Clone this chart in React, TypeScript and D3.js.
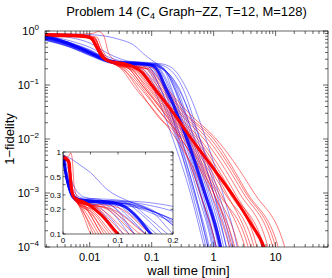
import React from 'react';
import * as d3 from 'd3';

type Pt = [number, number];

// wall time [min], 1 - fidelity
const blueThin: Pt[][] = [
  [[0.001,0.86],[0.002,0.78],[0.005,0.58],[0.01,0.42],[0.02,0.29],[0.035,0.26],[0.06,0.245],[0.09,0.18],[0.12,0.1],[0.26,0.01],[0.45,0.001],[0.75,0.0001],[0.9,0.00004]],
  [[0.001,0.84],[0.002,0.74],[0.005,0.55],[0.01,0.4],[0.02,0.28],[0.035,0.255],[0.07,0.24],[0.1,0.17],[0.13,0.1],[0.28,0.01],[0.5,0.001],[0.85,0.0001],[1,0.00004]],
  [[0.001,0.82],[0.002,0.72],[0.005,0.53],[0.01,0.38],[0.02,0.28],[0.035,0.25],[0.08,0.235],[0.11,0.17],[0.15,0.1],[0.3,0.01],[0.55,0.001],[0.95,0.0001],[1.1,0.00004]],
  [[0.001,0.88],[0.002,0.8],[0.005,0.6],[0.01,0.45],[0.02,0.3],[0.035,0.265],[0.09,0.25],[0.12,0.18],[0.16,0.1],[0.33,0.01],[0.6,0.001],[1,0.0001],[1.2,0.00004]],
  [[0.001,0.8],[0.002,0.7],[0.005,0.52],[0.01,0.37],[0.02,0.27],[0.035,0.245],[0.1,0.235],[0.13,0.17],[0.17,0.1],[0.35,0.01],[0.62,0.001],[1.05,0.0001],[1.25,0.00004]],
  [[0.001,0.85],[0.002,0.76],[0.005,0.56],[0.01,0.41],[0.02,0.29],[0.035,0.26],[0.11,0.245],[0.14,0.18],[0.18,0.1],[0.36,0.01],[0.66,0.001],[1.1,0.0001],[1.3,0.00004]],
  [[0.001,0.78],[0.002,0.68],[0.005,0.5],[0.01,0.36],[0.02,0.27],[0.035,0.245],[0.12,0.235],[0.15,0.17],[0.19,0.1],[0.38,0.01],[0.7,0.001],[1.2,0.0001],[1.4,0.00004]],
  [[0.001,0.9],[0.002,0.82],[0.005,0.65],[0.01,0.5],[0.02,0.33],[0.035,0.275],[0.1,0.26],[0.16,0.19],[0.2,0.1],[0.4,0.01],[0.75,0.001],[1.25,0.0001],[1.5,0.00004]],
  [[0.001,0.83],[0.002,0.73],[0.005,0.54],[0.01,0.39],[0.02,0.28],[0.035,0.25],[0.11,0.24],[0.17,0.18],[0.22,0.1],[0.42,0.01],[0.8,0.001],[1.35,0.0001],[1.6,0.00004]],
  [[0.001,0.76],[0.002,0.66],[0.005,0.49],[0.01,0.35],[0.02,0.26],[0.035,0.235],[0.1,0.225],[0.18,0.17],[0.23,0.1],[0.45,0.01],[0.85,0.001],[1.45,0.0001],[1.7,0.00004]],
  [[0.001,0.84],[0.002,0.75],[0.005,0.57],[0.01,0.42],[0.02,0.29],[0.035,0.26],[0.1,0.24],[0.17,0.17],[0.24,0.1],[0.48,0.01],[0.9,0.001],[1.6,0.0001],[1.9,0.00004]],
  [[0.001,0.81],[0.002,0.71],[0.005,0.53],[0.01,0.38],[0.02,0.27],[0.035,0.245],[0.11,0.235],[0.19,0.16],[0.26,0.1],[0.55,0.01],[1,0.001],[1.8,0.0001],[2.1,0.00004]],
  [[0.001,0.88],[0.002,0.79],[0.005,0.6],[0.01,0.44],[0.02,0.3],[0.035,0.265],[0.12,0.245],[0.2,0.19],[0.3,0.1],[0.6,0.01],[1.1,0.001],[1.9,0.0001],[2.2,0.00004]],
  [[0.001,0.79],[0.002,0.69],[0.005,0.51],[0.01,0.37],[0.02,0.27],[0.035,0.25],[0.1,0.24],[0.2,0.15],[0.25,0.1],[0.6,0.01],[1.2,0.001],[2.1,0.0001],[2.5,0.00004]],
  [[0.001,0.86],[0.002,0.77],[0.005,0.58],[0.01,0.43],[0.02,0.3],[0.035,0.26],[0.13,0.25],[0.21,0.21],[0.34,0.1],[0.75,0.01],[1.4,0.001],[2.4,0.0001],[2.8,0.00004]],
  [[0.001,0.84],[0.002,0.74],[0.005,0.55],[0.01,0.4],[0.02,0.28],[0.035,0.25],[0.05,0.235],[0.075,0.17],[0.1,0.1],[0.22,0.01],[0.42,0.001],[0.7,0.0001],[0.85,0.00004]],
  [[0.001,0.9],[0.002,0.84],[0.005,0.75],[0.01,0.6],[0.02,0.38],[0.04,0.28],[0.07,0.26],[0.1,0.19],[0.13,0.1],[0.3,0.01],[0.6,0.001],[1.1,0.0001],[1.3,0.00004]],
  [[0.001,0.95],[0.002,0.9],[0.01,0.86],[0.03,0.7],[0.05,0.56],[0.08,0.35],[0.12,0.25],[0.16,0.2],[0.22,0.1],[0.5,0.01],[1,0.001],[1.6,0.0001],[1.9,0.00004]],
  [[0.001,0.82],[0.002,0.72],[0.005,0.54],[0.01,0.39],[0.02,0.27],[0.035,0.245],[0.09,0.23],[0.12,0.16],[0.15,0.1],[0.27,0.01],[0.5,0.001],[0.8,0.0001],[0.95,0.00004]],
  [[0.001,0.77],[0.002,0.67],[0.005,0.5],[0.01,0.36],[0.02,0.26],[0.035,0.24],[0.06,0.225],[0.085,0.16],[0.11,0.1],[0.25,0.01],[0.48,0.001],[0.82,0.0001],[1,0.00004]],
];

const redThin: Pt[][] = [
  [[0.001,0.86],[0.002,0.84],[0.006,0.82],[0.01,0.74],[0.013,0.45],[0.017,0.3],[0.025,0.25],[0.035,0.18],[0.05,0.1],[0.12,0.03],[0.25,0.01],[0.7,0.001],[1.3,0.0001],[1.6,0.00004]],
  [[0.001,0.84],[0.002,0.82],[0.006,0.8],[0.011,0.72],[0.014,0.42],[0.018,0.29],[0.025,0.245],[0.04,0.17],[0.06,0.1],[0.14,0.03],[0.3,0.01],[0.9,0.001],[1.8,0.0001],[2.2,0.00004]],
  [[0.001,0.9],[0.002,0.88],[0.006,0.86],[0.01,0.78],[0.013,0.5],[0.017,0.32],[0.025,0.26],[0.045,0.19],[0.07,0.1],[0.16,0.03],[0.35,0.01],[1.1,0.001],[2.5,0.0001],[3,0.00004]],
  [[0.001,0.82],[0.002,0.8],[0.006,0.79],[0.012,0.7],[0.015,0.4],[0.019,0.29],[0.025,0.25],[0.05,0.18],[0.08,0.1],[0.18,0.03],[0.4,0.01],[1.3,0.001],[3.2,0.0001],[4,0.00004]],
  [[0.001,0.88],[0.002,0.86],[0.006,0.84],[0.011,0.75],[0.014,0.46],[0.018,0.3],[0.025,0.255],[0.055,0.19],[0.09,0.1],[0.2,0.03],[0.45,0.01],[1.6,0.001],[4,0.0001],[5,0.00004]],
  [[0.001,0.84],[0.002,0.82],[0.006,0.8],[0.012,0.72],[0.015,0.42],[0.019,0.29],[0.025,0.245],[0.06,0.19],[0.1,0.1],[0.22,0.03],[0.5,0.01],[1.8,0.001],[5,0.0001],[6,0.00004]],
  [[0.001,0.91],[0.002,0.89],[0.006,0.87],[0.01,0.8],[0.013,0.52],[0.017,0.33],[0.025,0.265],[0.065,0.2],[0.11,0.1],[0.25,0.03],[0.6,0.01],[2.2,0.001],[6,0.0001],[7.5,0.00004]],
  [[0.001,0.83],[0.002,0.81],[0.006,0.79],[0.011,0.72],[0.014,0.43],[0.018,0.29],[0.025,0.25],[0.07,0.2],[0.12,0.1],[0.28,0.03],[0.7,0.01],[2.6,0.001],[7.5,0.0001],[9,0.00004]],
  [[0.001,0.89],[0.002,0.87],[0.006,0.85],[0.012,0.76],[0.015,0.45],[0.019,0.3],[0.025,0.25],[0.08,0.2],[0.13,0.1],[0.3,0.03],[0.8,0.01],[3,0.001],[9,0.0001],[11,0.00004]],
  [[0.001,0.86],[0.002,0.84],[0.006,0.82],[0.01,0.76],[0.013,0.47],[0.017,0.3],[0.025,0.245],[0.09,0.2],[0.15,0.1],[0.35,0.03],[1,0.01],[3.5,0.001],[11,0.0001],[13,0.00004]],
  [[0.001,0.8],[0.002,0.78],[0.006,0.77],[0.011,0.7],[0.014,0.42],[0.018,0.29],[0.025,0.25],[0.1,0.21],[0.16,0.1],[0.4,0.03],[1.1,0.01],[4.5,0.001],[14,0.0001],[17,0.00004]],
  [[0.001,0.87],[0.002,0.85],[0.006,0.83],[0.012,0.75],[0.015,0.44],[0.019,0.29],[0.025,0.25],[0.035,0.2],[0.055,0.1],[0.13,0.025],[0.28,0.01],[0.6,0.001],[1.1,0.0001],[1.3,0.00004]],
  [[0.001,0.85],[0.002,0.83],[0.006,0.81],[0.011,0.73],[0.014,0.44],[0.018,0.3],[0.025,0.25],[0.04,0.19],[0.065,0.1],[0.15,0.028],[0.33,0.01],[1,0.001],[2,0.0001],[2.4,0.00004]],
  [[0.001,0.9],[0.002,0.88],[0.006,0.86],[0.013,0.77],[0.016,0.45],[0.02,0.3],[0.027,0.25],[0.05,0.19],[0.075,0.1],[0.17,0.03],[0.38,0.01],[1.2,0.001],[3.6,0.0001],[4.4,0.00004]],
  [[0.001,0.88],[0.002,0.86],[0.006,0.84],[0.012,0.74],[0.015,0.44],[0.019,0.29],[0.025,0.24],[0.055,0.18],[0.085,0.1],[0.19,0.03],[0.42,0.01],[1.5,0.001],[4.5,0.0001],[5.5,0.00004]],
  [[0.001,0.83],[0.002,0.81],[0.006,0.8],[0.01,0.74],[0.013,0.46],[0.017,0.3],[0.025,0.25],[0.06,0.2],[0.095,0.1],[0.23,0.03],[0.55,0.01],[2,0.001],[6.5,0.0001],[8,0.00004]],
  [[0.001,0.9],[0.002,0.88],[0.006,0.87],[0.011,0.9],[0.014,0.98],[0.017,0.8],[0.02,0.4],[0.025,0.29],[0.04,0.22],[0.07,0.1],[0.16,0.03],[0.3,0.01],[1,0.001],[2.2,0.0001],[2.7,0.00004]],
  [[0.001,0.82],[0.002,0.8],[0.006,0.78],[0.011,0.72],[0.014,0.43],[0.018,0.29],[0.025,0.25],[0.085,0.2],[0.14,0.1],[0.33,0.03],[0.9,0.01],[3.3,0.001],[10,0.0001],[12,0.00004]],
];

const blueMedian: Pt[] = [[0.001,0.88],[0.002,0.78],[0.004,0.62],[0.007,0.48],[0.01,0.4],[0.015,0.32],[0.02,0.28],[0.03,0.262],[0.06,0.25],[0.09,0.24],[0.115,0.21],[0.135,0.16],[0.16,0.1],[0.22,0.045],[0.38,0.0093],[0.7,0.0011],[1.25,0.00012],[1.5,0.00004]];
const redMedian: Pt[] = [[0.001,0.86],[0.002,0.85],[0.005,0.83],[0.009,0.79],[0.011,0.7],[0.013,0.5],[0.016,0.33],[0.02,0.28],[0.025,0.265],[0.035,0.25],[0.05,0.22],[0.07,0.17],[0.1,0.1],[0.22,0.031],[0.46,0.0093],[1,0.0028],[2.2,0.0008],[4,0.00027],[6.5,0.0001],[8,0.00005]];

const xTickLabels = [0.01, 0.1, 1, 10];
const yExponents = [0, -1, -2, -3, -4];
const insetXTicks = [0, 0.1, 0.2];
const insetYTicks = [1, 0.5, 0.3, 0.2, 0.1];

const BLUE = '#0000ff';
const RED = '#ff0000';
const FONT = '"Liberation Sans", Arial, Helvetica, sans-serif';

export default function App() {
  const W = 332, H = 278;
  const L = 45, T = 31, R = 328, B = 247;
  const x = d3.scaleLog().domain([0.0019, 70]).range([L, R]);
  const y = d3.scaleLog().domain([1e-4, 1]).range([B, T]);

  const iL = 63, iT = 152, iR = 173, iB = 234;
  const xi = d3.scaleLinear().domain([0, 0.2]).range([iL, iR]);
  const yi = d3.scaleLog().domain([0.1, 1]).range([iB, iT]);

  const mainLine = d3.line<Pt>().x(d => x(d[0])).y(d => y(d[1])).curve(d3.curveMonotoneX);
  const insetLine = d3.line<Pt>().x(d => xi(d[0])).y(d => yi(d[1])).curve(d3.curveMonotoneX);

  const xTicks = x.ticks();
  const yTicks = y.ticks();
  const isMajor = (v: number) => Math.abs(Math.log10(v) - Math.round(Math.log10(v))) < 1e-6;
  const xiTicks = d3.range(0, 0.2001, 0.05);
  const yiTicks = yi.ticks();

  const series = (lineFn: d3.Line<Pt>, clip: string) => (
    <g clipPath={`url(#${clip})`} fill="none" strokeLinejoin="round">
      {blueThin.map((c, i) => <path key={'b' + i} d={lineFn(c) || ''} stroke={BLUE} strokeOpacity={0.55} strokeWidth={0.8} />)}
      {redThin.map((c, i) => <path key={'r' + i} d={lineFn(c) || ''} stroke={RED} strokeOpacity={0.65} strokeWidth={0.8} />)}
      <path d={lineFn(blueMedian) || ''} stroke={BLUE} strokeOpacity={0.85} strokeWidth={3} />
      <path d={lineFn(redMedian) || ''} stroke={RED} strokeWidth={3} />
    </g>
  );

  return (
    <svg width={W} height={H} style={{ position: 'absolute', left: 0, top: 0, background: '#fff' }} fontFamily={FONT}>
      <defs>
        <clipPath id="mainClip"><rect x={L} y={T} width={R - L} height={B - T} /></clipPath>
        <clipPath id="insetClip"><rect x={iL} y={iT} width={iR - iL} height={iB - iT} /></clipPath>
      </defs>
      <rect x={0} y={0} width={W} height={H} fill="#fff" />

      {series(mainLine, 'mainClip')}

      {/* main axes box and ticks */}
      <g stroke="#000" strokeWidth={0.6}>
        {xTicks.map((t, i) => {
          const len = isMajor(t) ? 5 : 3;
          const px = x(t);
          return (
            <g key={'xt' + i}>
              <line x1={px} x2={px} y1={B} y2={B - len} />
              <line x1={px} x2={px} y1={T} y2={T + len} />
            </g>
          );
        })}
        {yTicks.map((t, i) => {
          const len = isMajor(t) ? 5 : 3;
          const py = y(t);
          return (
            <g key={'yt' + i}>
              <line x1={L} x2={L + len} y1={py} y2={py} />
              <line x1={R} x2={R - len} y1={py} y2={py} />
            </g>
          );
        })}
        <rect x={L} y={T} width={R - L} height={B - T} fill="none" />
      </g>

      <g fontSize={11} fill="#000">
        {xTickLabels.map(t => (
          <text key={'xl' + t} x={x(t)} y={B + 13.5} textAnchor="middle">{t}</text>
        ))}
        {yExponents.map(e => (
          <text key={'yl' + e} x={L - 6} y={y(Math.pow(10, e)) + 4} textAnchor="end">
            10<tspan dy={-5} fontSize={8}>{e === 0 ? '0' : '\u2212' + (-e)}</tspan>
          </text>
        ))}
      </g>
      <g fontSize={13} fill="#000">
        <text x={(L + R) / 2 + 2} y={275} textAnchor="middle">wall time [min]</text>
        <text transform={`translate(14,${(T + B) / 2}) rotate(-90)`} textAnchor="middle">1{'\u2212'}fidelity</text>
        <text x={(L + R) / 2} y={16} textAnchor="middle">
          Problem 14 (C<tspan dy={3} fontSize={9}>4</tspan><tspan dy={-3}> Graph{'\u2212'}ZZ, T=12, M=128)</tspan>
        </text>
      </g>

      {/* inset */}
      <rect x={iL} y={iT} width={iR - iL} height={iB - iT} fill="#fff" />
      {series(insetLine, 'insetClip')}
      <g stroke="#000" strokeWidth={0.6}>
        {xiTicks.map((t, i) => (
          <g key={'xit' + i}>
            <line x1={xi(t)} x2={xi(t)} y1={iB} y2={iB - 2.5} />
            <line x1={xi(t)} x2={xi(t)} y1={iT} y2={iT + 2.5} />
          </g>
        ))}
        {yiTicks.map((t, i) => (
          <g key={'yit' + i}>
            <line x1={iL} x2={iL + 2.5} y1={yi(t)} y2={yi(t)} />
            <line x1={iR} x2={iR - 2.5} y1={yi(t)} y2={yi(t)} />
          </g>
        ))}
        <rect x={iL} y={iT} width={iR - iL} height={iB - iT} fill="none" />
      </g>
      <g fontSize={8} fill="#000">
        {insetXTicks.map(t => (
          <text key={'xil' + t} x={xi(t)} y={iB + 9} textAnchor="middle">{t}</text>
        ))}
        {insetYTicks.map(t => (
          <text key={'yil' + t} x={iL - 2} y={yi(t) + 3} textAnchor="end">{t}</text>
        ))}
      </g>
    </svg>
  );
}
